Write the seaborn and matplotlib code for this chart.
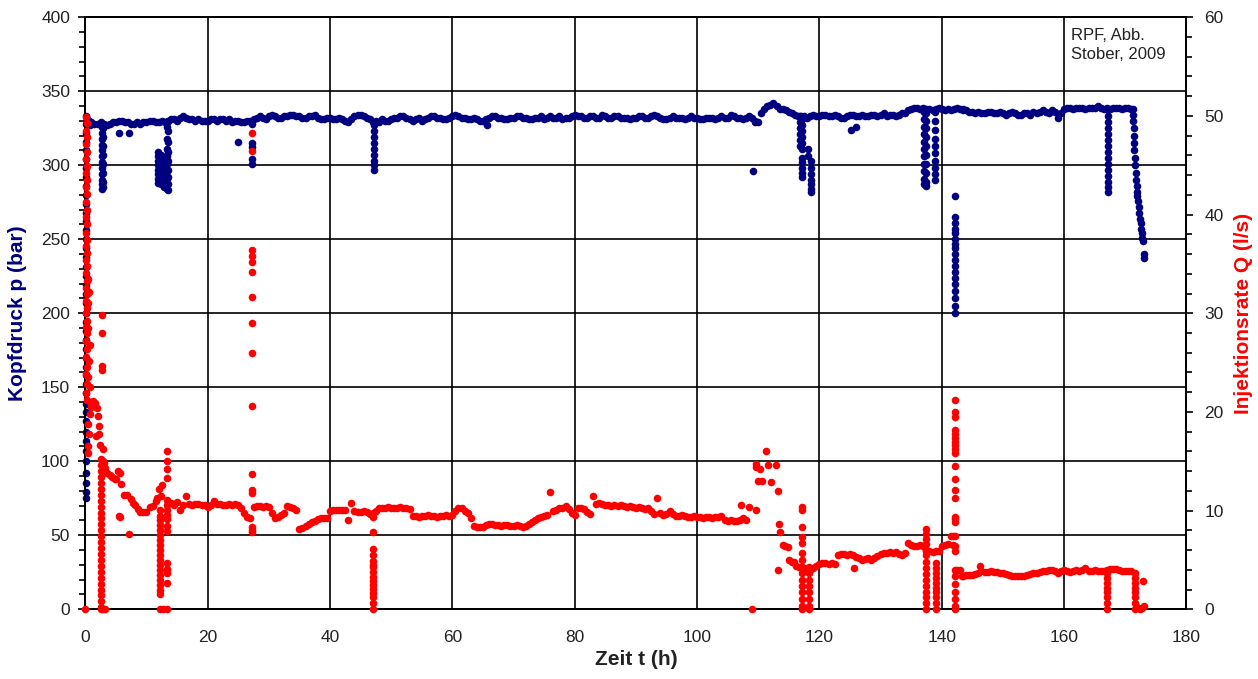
import numpy as np
import pandas as pd
import matplotlib
matplotlib.use("Agg")
import matplotlib.pyplot as plt
import seaborn as sns
from matplotlib.ticker import MultipleLocator

sns.set_style("white")
plt.rcParams["font.family"] = ["Liberation Sans", "DejaVu Sans"]

# ---------------------------------------------------------------
# Wellhead pressure p (bar)
# ---------------------------------------------------------------
# pressure build-up right at the start of injection (t ~ 0 h)
p_start_t = [0.05, 0.1, 0.05, 0.1, 0.05, 0.1, 0.05, 0.1, 0.05, 0.1, 0.05, 0.1, 0.05,
             0.1, 0.05, 0.1, 0.05, 0.1, 0.05, 0.1, 0.05, 0.1, 0.05, 0.1, 0.05, 0.1,
             0.05, 0.1, 0.05, 0.1, 0.05, 0.1, 0.05, 0.1, 0.05, 0.1, 0.05, 0.1, 0.05,
             0.1, 0.05, 0.1, 0.15, 0.3, 0.6, 0.8]
p_start = [75, 79, 85, 92, 100, 107, 114, 120, 127, 133, 139, 146, 152,
           158, 164, 170, 176, 182, 188, 194, 200, 207, 213, 219, 225, 231,
           238, 244, 250, 256, 262, 268, 274, 280, 286, 292, 298, 304, 310,
           316, 322, 328, 333, 331, 330, 327]

# hourly readings of the pressure plateau, t = 1 ... 171 h
p_hours = np.arange(1, 172)
p_plateau = [329, 328, 328, 328, 329, 330, 329, 328, 328, 329,
             330, 329, 329, 331, 330, 333, 331, 330, 330, 330,
             331, 331, 330, 329, 330, 329, 330, 332, 332, 333,
             333, 332, 333, 334, 333, 332, 333, 332, 331, 332,
             331, 331, 329, 333, 334, 332, 329, 329, 330, 331,
             332, 333, 331, 331, 330, 332, 333, 332, 331, 333,
             333, 332, 331, 331, 330, 332, 333, 332, 331, 332,
             333, 332, 331, 332, 331, 333, 332, 331, 332, 334,
             333, 332, 333, 332, 333, 332, 333, 332, 331, 332,
             333, 332, 334, 332, 331, 333, 332, 331, 333, 332,
             331, 332, 331, 333, 332, 333, 332, 332, 332, 329,
             338, 341, 340, 338, 336, 334, 333, 332, 334, 333,
             334, 333, 333, 332, 334, 333, 334, 333, 334, 334,
             333, 334, 334, 335, 338, 339, 339, 338, 338, 338,
             338, 338, 338, 337, 336, 336, 335, 336, 335, 335,
             335, 335, 334, 335, 336, 336, 336, 337, 332, 338,
             339, 339, 339, 339, 339, 339, 339, 339, 339, 339,
             338]

# intermediate readings of the plateau, t = 1.5 ... 170.5 h
p_half_hours = np.arange(1.5, 171.0, 1.0)
p_plateau_half = [328, 329, 327, 329, 330, 329, 328, 329, 329, 330,
                  329, 330, 330, 331, 332, 332, 331, 331, 330, 331,
                  330, 331, 331, 330, 329, 330, 331, 333, 331, 334,
                  332, 333, 334, 333, 332, 333, 334, 331, 332, 331,
                  332, 330, 331, 334, 333, 331, 330, 331, 330, 332,
                  333, 332, 330, 332, 331, 333, 332, 331, 332, 334,
                  332, 331, 332, 330, 331, 333, 332, 331, 332, 333,
                  332, 331, 332, 333, 332, 332, 333, 332, 333, 333,
                  332, 333, 332, 334, 332, 333, 332, 332, 332, 333,
                  332, 333, 333, 331, 332, 332, 332, 332, 332, 331,
                  332, 332, 332, 332, 334, 332, 331, 333, 330, 335,
                  340, 342, 338, 337, 335, 333, 333, 333, 333, 334,
                  333, 334, 332, 333, 334, 333, 333, 334, 333, 335,
                  334, 333, 335, 337, 339, 338, 338, 337, 339, 337,
                  337, 339, 337, 336, 335, 335, 336, 335, 336, 334,
                  336, 334, 335, 334, 335, 337, 335, 336, 335, 339,
                  338, 339, 338, 339, 340, 338, 338, 339, 338, 339]

# single scattered readings
p_single_t = [5.5, 7.2, 25.0, 65.7, 109.2, 109.5, 125.1, 126.0, 143.5]
p_single = [322, 322, 316, 327, 296, 329, 324, 326, 338]

# pressure drops during shut-ins / rate changes (time, readings)
p_drops = [
    (2.7, [326, 322, 318, 314, 310, 306, 302, 298, 294, 290, 287, 284]),
    (2.9, [325, 319, 313, 307, 301, 295, 289, 285]),
    (11.9, [309, 306, 303, 300, 297, 294, 291, 288]),
    (12.3, [307, 303, 299, 295, 291, 287]),
    (12.8, [305, 300, 296, 292, 288, 285]),
    (13.3, [326, 318, 311, 306, 301, 296, 291, 287, 284]),
    (13.6, [330, 323, 316, 309, 303, 297, 292, 287, 283]),
    (27.2, [328, 315, 312, 304, 301]),
    (47.2, [327, 323, 319, 315, 311, 307, 303, 300, 297]),
    (116.9, [333, 329, 325, 321, 317, 313]),
    (117.1, [331, 327, 323, 319, 315, 311, 305, 302, 298, 295, 292]),
    (118.2, [311, 306]),
    (118.6, [303, 298, 294, 290, 287, 284, 282]),
    (137.1, [336, 331, 326, 321, 316, 311, 306, 301, 296, 291, 287]),
    (137.5, [335, 330, 325, 319, 313, 307, 301, 295, 289, 286]),
    (138.9, [336, 330, 324, 318, 313, 308, 303, 298, 294, 290]),
    (142.2, [279, 265, 261, 257, 254, 250, 247, 244, 240, 236, 232, 228,
             224, 220, 215, 210, 205, 200]),
    (167.1, [337, 333, 329, 325, 321, 317, 313, 309, 305, 301, 297, 293,
             289, 285, 282]),
]

# final pressure decline at the end of injection
p_end_t = [171.2, 171.25, 171.3, 171.35, 171.4, 171.45, 171.5, 171.55, 171.6,
           171.7, 171.8, 171.85, 171.9, 172.0, 172.1, 172.2, 172.3, 172.4,
           172.5, 172.6, 172.7, 172.8, 172.9, 173.0, 173.0]
p_end = [338, 334, 330, 325, 320, 315, 310, 305, 300, 295, 290, 286, 282, 279,
         276, 272, 268, 264, 261, 257, 254, 251, 249, 240, 237]

# ---------------------------------------------------------------
# Injection rate Q (l/s)
# ---------------------------------------------------------------
q_start_t = [0.05, 0.2, 0.05, 0.2, 0.05, 0.2, 0.05, 0.2, 0.05, 0.2, 0.05, 0.2,
             0.05, 0.2, 0.05, 0.2, 0.05, 0.2, 0.05, 0.2, 0.05, 0.2, 0.05, 0.2,
             0.05, 0.2, 0.05, 0.2, 0.05, 0.2, 0.05, 0.2, 0.05, 0.2, 0.05, 0.2,
             0.05, 0.2, 0.05, 0.2,
             0.5, 0.6, 0.4, 0.5, 0.7, 0.6, 0.5, 0.8, 0.9, 0.7, 0.4, 0.6, 0.5,
             0.4, 0.0,
             1.0, 1.3, 1.6, 1.9, 2.1, 2.2, 2.3, 2.4, 1.8, 2.7, 2.7, 2.7, 2.75,
             2.9, 2.95, 2.9, 3.2]
q_start = [49.9, 49.3, 48.5, 47.9, 47.2, 46.3, 45.6, 44.9, 44.2, 43.5, 42.8, 42.1,
           41.3, 40.5, 39.8, 39.0, 38.1, 37.4, 36.8, 36.1, 35.4, 34.8, 34.1, 33.3,
           32.6, 32.0, 31.2, 30.5, 30.0, 29.2, 28.6, 28.0, 27.2, 26.4, 25.6, 24.6,
           23.8, 22.8, 21.9, 21.2,
           33.5, 32.2, 31.0, 28.5, 26.8, 25.2, 23.5, 22.5, 20.5, 19.8, 18.8, 17.8, 16.5,
           15.8, 0.0,
           20.8, 21.1, 20.9, 20.4, 19.6, 18.6, 17.8, 16.6, 17.6, 29.8, 28.0, 24.7, 24.2,
           16.2, 15.0, 0.0, 0.0]

q_early_t = [3.0, 3.3, 3.6, 4.0, 4.4, 4.8, 5.1, 5.4, 5.6, 5.5, 5.7, 5.9, 6.3, 6.8,
             7.1, 7.4, 7.8, 8.2, 8.6, 9.0, 9.5, 10.0, 10.5, 11.0, 11.5, 11.8, 12.0,
             12.3, 12.6]
q_early = [14.8, 14.3, 13.8, 13.6, 13.4, 13.2, 13.2, 14.0, 13.8, 9.5, 9.4, 12.7, 11.6,
           11.6, 7.6, 11.2, 10.8, 10.6, 10.2, 9.9, 9.9, 9.9, 10.4, 10.5, 11.0, 11.3,
           12.2, 11.5, 12.6]

# half-hourly readings, 14.0 ... 34.5 h
q_a_t = np.arange(14.0, 34.75, 0.5)
q_a = [10.8, 10.6, 10.9, 10.1, 10.6, 11.5, 10.7, 10.6, 10.7, 10.7,
       10.6, 10.6, 10.4, 10.6, 11.0, 10.7, 10.7, 10.6, 10.6, 10.7,
       10.6, 10.7, 10.6, 10.3, 9.8, 9.4, 9.3, 10.4, 10.5, 10.5,
       10.4, 10.5, 10.4, 9.8, 9.3, 9.4, 9.6, 9.8, 10.5, 10.4,
       10.3, 10.1]

# half-hourly readings, 35.0 ... 46.5 h
q_b_t = np.arange(35.0, 46.75, 0.5)
q_b = [8.1, 8.2, 8.4, 8.6, 8.8, 8.9, 9.1, 9.2, 9.3, 9.3,
       10.0, 10.1, 10.1, 10.1, 10.1, 10.1, 9.0, 10.8, 10.0, 9.9,
       9.9, 10.0, 9.9, 9.7]

# half-hourly readings, 47.5 ... 108.0 h
q_c_t = np.arange(47.5, 108.25, 0.5)
q_c = [10.0, 10.3, 10.3, 10.3, 10.4, 10.3, 10.3, 10.3, 10.4, 10.3,
       10.3, 10.2, 9.5, 9.5, 9.4, 9.5, 9.5, 9.6, 9.5, 9.5,
       9.4, 9.5, 9.5, 9.6, 9.5, 9.6, 10.0, 10.3, 10.3, 10.0,
       9.8, 9.3, 8.4, 8.3, 8.3, 8.3, 8.5, 8.6, 8.6, 8.5,
       8.5, 8.4, 8.5, 8.5, 8.4, 8.4, 8.5, 8.4, 8.3, 8.4,
       8.6, 8.8, 9.0, 9.3, 9.4, 9.5, 9.6, 11.9, 10.0, 10.1,
       10.3, 10.3, 10.5, 10.2, 9.8, 9.6, 10.3, 10.3, 10.2, 9.9,
       9.7, 11.5, 10.7, 10.8, 10.7, 10.6, 10.6, 10.5, 10.6, 10.5,
       10.6, 10.5, 10.4, 10.5, 10.4, 10.3, 10.4, 10.3, 10.2, 10.3,
       10.0, 9.7, 11.3, 9.8, 9.6, 9.7, 10.0, 9.7, 9.5, 9.5,
       9.6, 9.5, 9.4, 9.4, 9.5, 9.4, 9.4, 9.3, 9.4, 9.4,
       9.3, 9.4, 9.4, 9.5, 9.0, 8.9, 9.0, 8.9, 8.9, 9.0,
       9.3, 9.0]

q_mid_t = [107.2, 108.5, 109.0, 109.6, 109.6, 109.7, 110.0, 110.3, 110.7, 111.2,
           111.6, 112.1, 112.9, 113.2, 113.2, 113.4, 113.5, 114.0, 114.4, 114.8,
           115.1, 115.5, 115.9, 116.2, 116.7]
q_mid = [10.6, 10.4, 0.0, 10.1, 14.7, 14.4, 13.0, 14.2, 13.0, 16.0,
         14.6, 12.9, 14.6, 12.0, 4.0, 8.6, 7.8, 6.5, 6.4, 6.3,
         5.0, 4.8, 4.8, 4.4, 4.3]

# half-hourly readings, 117.5 ... 141.5 h
q_d_t = np.arange(117.5, 141.75, 0.5)
q_d = [4.2, 4.1, 4.0, 4.2, 4.4, 4.6, 4.7, 4.7, 4.6, 4.7,
       4.6, 5.5, 5.6, 5.6, 5.5, 5.6, 5.5, 5.3, 5.2, 5.0,
       5.1, 5.2, 5.0, 5.2, 5.4, 5.6, 5.7, 5.7, 5.8, 5.7,
       5.8, 5.6, 5.5, 5.7, 6.7, 6.5, 6.4, 6.4, 6.5, 6.4,
       5.9, 5.9, 5.8, 5.9, 5.9, 6.4, 6.5, 6.6, 7.4]

# half-hourly readings, 142.5 ... 171.0 h
q_e_t = np.arange(142.5, 171.25, 0.5)
q_e = [4.0, 4.0, 3.4, 3.5, 3.5, 3.5, 3.6, 3.7, 3.9, 3.8,
       3.8, 3.9, 3.8, 3.8, 3.7, 3.7, 3.6, 3.5, 3.4, 3.4,
       3.4, 3.4, 3.4, 3.5, 3.6, 3.7, 3.7, 3.8, 3.9, 3.9,
       4.0, 4.0, 3.9, 3.7, 3.9, 4.0, 3.9, 3.8, 3.9, 4.0,
       3.9, 4.0, 4.2, 3.9, 3.9, 4.0, 3.9, 3.9, 3.9, 4.0,
       4.1, 4.1, 4.1, 4.0, 3.9, 3.9, 3.9, 3.9]

q_single_t = [125.7, 141.8, 141.9, 143.3, 146.2, 172.0, 172.4, 172.8, 173.0, 172.9]
q_single = [4.2, 6.5, 7.4, 3.4, 4.4, 0.2, 0.0, 0.1, 0.3, 2.9]

# rate drops (time, readings)
q_drops = [
    (2.6, [15.2, 14.6, 14.0, 13.4, 12.8, 12.2, 11.6, 11.0, 10.4, 9.8, 9.2, 8.6,
           8.0, 7.4, 6.8, 6.2, 5.6, 5.0, 4.4, 3.8, 3.2, 2.6, 2.0, 1.4, 0.8, 0.2, 0.0]),
    (12.2, [10.1, 9.5, 9.0, 8.5, 8.0, 7.5, 7.0, 6.5, 6.0, 5.5, 5.0, 4.5, 4.0, 3.5,
            3.0, 2.5, 2.0, 1.5, 0.0]),
    (12.7, [0.0]),
    (13.3, [16.0, 15.0, 14.2, 13.3, 11.1, 10.6, 10.1, 9.6, 9.1, 8.4, 7.9, 4.7, 4.1,
            3.7, 2.7, 0.0]),
    (27.2, [48.3, 46.4, 36.4, 35.8, 35.2, 34.2, 31.6, 29.0, 26.0, 20.6, 13.7, 12.1,
            11.8, 8.3, 8.0, 7.8]),
    (47.1, [9.8, 9.4, 7.8, 6.1, 5.5, 4.9, 4.5, 4.3, 3.8, 3.3, 2.9, 2.5, 2.1, 1.6,
            1.2, 0.6, 0.0]),
    (117.1, [10.4, 10.1, 8.3, 7.3, 6.7, 5.7, 5.0, 4.3, 3.7, 3.0, 2.4, 1.7, 1.0, 0.3, 0.0]),
    (118.3, [4.3, 3.7, 3.0, 2.4, 1.7, 1.0, 0.3, 0.0]),
    (137.4, [8.1, 7.6, 7.1, 6.6, 6.0, 5.5, 4.8, 4.2, 3.6, 3.0, 2.4, 1.8, 1.2, 0.6, 0.0]),
    (139.0, [4.7, 4.2, 3.7, 3.2, 2.7, 2.2, 1.7, 1.2, 0.6, 0.0]),
    (142.2, [21.2, 20.0, 19.5, 18.2, 17.8, 17.4, 17.0, 16.6, 16.2, 15.8, 14.5, 13.2,
             12.1, 11.3, 9.4, 9.1, 8.8, 7.4, 6.4, 5.9, 4.0, 3.4, 2.6, 1.8, 1.0, 0.3, 0.0]),
    (167.0, [3.7, 3.2, 2.7, 2.2, 1.7, 1.2, 0.6, 0.0]),
    (171.6, [3.7, 3.2, 2.7, 2.2, 1.7, 1.2, 0.6, 0.0]),
]

# text
x_label = "Zeit t (h)"
y_label_p = "Kopfdruck p (bar)"
y_label_q = "Injektionsrate Q (l/s)"
source_note = "RPF, Abb.\nStober, 2009"


def frame(parts, drops, col):
    rows = [pd.DataFrame({"t": list(t), col: list(v)}) for t, v in parts]
    rows += [pd.DataFrame({"t": [t] * len(v), col: v}) for t, v in drops]
    return pd.concat(rows, ignore_index=True)


df_p = frame([(p_start_t, p_start), (p_hours, p_plateau),
              (p_half_hours, p_plateau_half), (p_single_t, p_single),
              (p_end_t, p_end)], p_drops, "p")
df_q = frame([(q_start_t, q_start), (q_early_t, q_early), (q_a_t, q_a), (q_b_t, q_b),
              (q_c_t, q_c), (q_mid_t, q_mid), (q_d_t, q_d), (q_e_t, q_e),
              (q_single_t, q_single)], q_drops, "q")

navy = "#000080"
red = "#ff0000"
ink = "#222222"

fig = plt.figure(figsize=(12.58, 6.79), dpi=100)
ax = fig.add_axes([0.0678, 0.1027, 0.8753, 0.8719])
ax2 = ax.twinx()

sns.scatterplot(data=df_p, x="t", y="p", ax=ax, color=navy, s=30, linewidth=0,
                legend=False, clip_on=False, zorder=3)
sns.scatterplot(data=df_q, x="t", y="q", ax=ax2, color=red, s=30, linewidth=0,
                legend=False, clip_on=False, zorder=3)

ax.set_xlim(0, 180)
ax.set_ylim(0, 400)
ax2.set_ylim(0, 60)

ax.xaxis.set_major_locator(MultipleLocator(20))
ax.xaxis.set_minor_locator(MultipleLocator(2))
ax.yaxis.set_major_locator(MultipleLocator(50))
ax.yaxis.set_minor_locator(MultipleLocator(10))
ax2.yaxis.set_major_locator(MultipleLocator(10))
ax2.yaxis.set_minor_locator(MultipleLocator(2))

ax.grid(True, which="major", color="black", linewidth=1.2)
ax.set_axisbelow(True)

for a in (ax, ax2):
    for sp in a.spines.values():
        sp.set_color("black")
        sp.set_linewidth(1.4)

ax.tick_params(axis="both", which="both", direction="out", color="black",
               width=1.2, labelsize=12.5, labelcolor=ink)
ax.tick_params(which="major", length=5)
ax.tick_params(which="minor", length=4)
ax.tick_params(axis="x", pad=10)
ax.tick_params(axis="y", pad=6, right=False)
ax2.tick_params(axis="y", which="both", direction="out", color="black", width=1.2,
                labelsize=12.5, labelcolor=ink, pad=8)
ax2.tick_params(which="major", length=5)
ax2.tick_params(which="minor", length=4)

ax.set_xlabel(x_label, fontsize=15, fontweight="bold", color=ink)
ax.set_ylabel(y_label_p, fontsize=15, fontweight="bold", color=navy)
ax2.set_ylabel(y_label_q, fontsize=15, fontweight="bold", color=red, rotation=90)
ax.xaxis.set_label_coords(0.5, -0.068)
ax.yaxis.set_label_coords(-0.053, 0.5)
ax2.yaxis.set_label_coords(1.0431, 0.5)

ax.text(161.2, 393, source_note, fontsize=12, va="top", ha="left",
        color=ink, linespacing=1.35)

fig.savefig("out.png", dpi=100)
